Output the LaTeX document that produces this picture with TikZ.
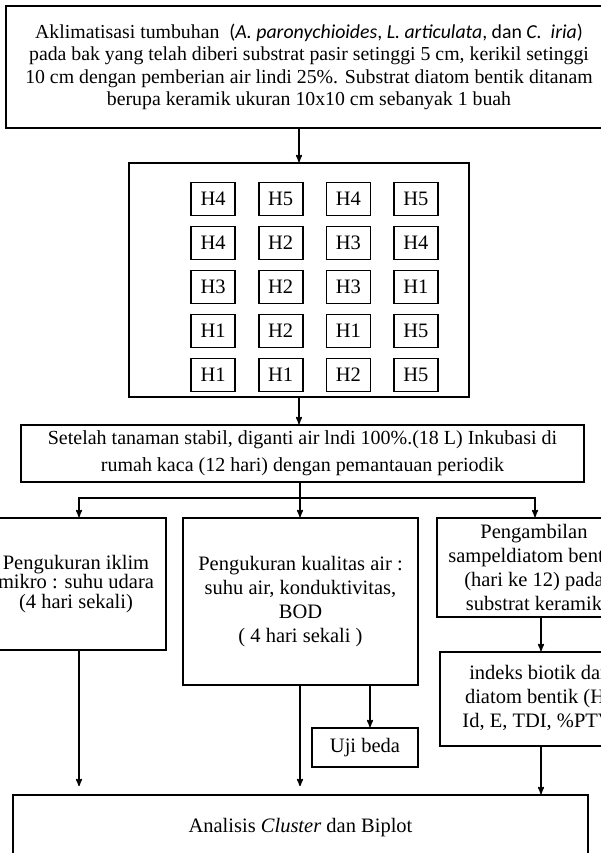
\documentclass[tikz,border=0pt]{standalone}
\usepackage{fontspec}
\setmainfont{Liberation Serif}
\newfontfamily\calibri{Carlito}
\usetikzlibrary{arrows}
\usetikzlibrary{matrix}
\tikzset{
  every matrix/.style={
    matrix of nodes,
    column sep=22pt, row sep=9.3pt,
    nodes={draw, line width=1.6pt, minimum width=44pt, minimum height=33pt,
      inner sep=0, font=\fontsize{20.5}{22}\selectfont},
    ampersand replacement=\&
  },
  box/.style={draw, line width=1.8pt, align=center, inner sep=0,
    font=\fontsize{20.5}{22.5}\selectfont},
  arrow/.style={->,>=stealth', line width=1.5pt}
}
\begin{document}
\begin{tikzpicture}[x=1pt,y=-1pt]
  \useasboundingbox (0,0) rectangle (601,853);

  \node[box, minimum width=606pt, minimum height=122pt, font=\fontsize{19.8}{22.5}\selectfont] (aklim) at (309,67)
    {Aklimatisasi tumbuhan \ {\calibri(\textit{A. paronychioides}, \textit{L. articulata}, dan \textit{C.}\ \ \textit{iria})}\\
     pada bak yang telah diberi substrat pasir setinggi 5 cm, kerikil setinggi\\
     10 cm dengan pemberian air lindi 25\%. Substrat diatom bentik ditanam\\
     berupa keramik ukuran 10x10 cm sebanyak 1 buah};

  \node[box, minimum width=340pt, minimum height=234pt] (petak) at (299,280) {};
  \matrix (plot) at (314.5,287) {
H4 \& H5 \& H4 \& H5 \\
H4 \& H2 \& H3 \& H4 \\
H3 \& H2 \& H3 \& H1 \\
H1 \& H2 \& H1 \& H5 \\
H1 \& H1 \& H2 \& H5 \\
  };

  \node[box, minimum width=563pt, minimum height=57pt, font=\fontsize{20}{27}\selectfont] (setelah) at (302.5,453.5)
    {Setelah tanaman stabil, diganti air lndi 100\%.(18 L) Inkubasi di\\
     rumah kaca (12 hari) dengan pemantauan periodik};

  \node[box, minimum width=180pt, minimum height=132pt, font=\fontsize{20.5}{19.5}\selectfont] (iklim) at (76,584)
    {Pengukuran iklim\\ mikro : suhu udara\\ (4 hari sekali)};
  \node[box, minimum width=235pt, minimum height=167pt, font=\fontsize{20.5}{24}\selectfont] (kualitas) at (300.5,601.5)
    {Pengukuran kualitas air :\\ suhu air, konduktivitas,\\ BOD\\ ( 4 hari sekali )};
  \node[box, minimum width=194pt, minimum height=99pt, font=\fontsize{20.5}{24}\selectfont] (sampel) at (534,567.5)
    {Pengambilan\\ sampeldiatom bentik\\ (hari ke 12) pada\\ substrat keramik};
  \node[box, minimum width=202pt, minimum height=94pt, font=\fontsize{20.5}{24}\selectfont] (indeks) at (541,699)
    {indeks biotik dari\\ diatom bentik (H',\\ Id, E, TDI, \%PTV)};
  \node[box, minimum width=106pt, minimum height=39pt] (uji) at (365,747.5) {Uji beda};
  \node[box, minimum width=575pt, minimum height=65pt] (analisis) at (300.5,827.5)
    {Analisis \textit{Cluster} dan Biplot};

  % alur
  \coordinate (cabang) at (300,498);
  \draw[arrow] (petak.north |- aklim.south) -- (petak.north);
  \draw[arrow] (petak.south) -- (petak.south |- setelah.north);
  \draw[line width=1.5pt] (setelah.south -| cabang) -- (cabang);
  \draw[arrow] (cabang) -- (cabang |- kualitas.north);
  \draw[arrow] (cabang) -| ([xshift=3pt]iklim.north);
  \draw[arrow] (cabang) -| ([xshift=1pt]sampel.north);
  \draw[arrow] (sampel.south -| indeks.north) -- (indeks.north);
  \draw[arrow, shorten >=8pt] ([xshift=3pt]iklim.south) -- ([xshift=3pt]iklim.south |- analisis.north);
  \draw[arrow, shorten >=8pt] (kualitas.south -| cabang) -- (cabang |- analisis.north);
  \draw[arrow] ([xshift=5pt]kualitas.south -| uji.north) -- ([xshift=5pt]uji.north);
  \draw[arrow] (indeks.south) -- (indeks.south |- analisis.north);
\end{tikzpicture}
\end{document}
